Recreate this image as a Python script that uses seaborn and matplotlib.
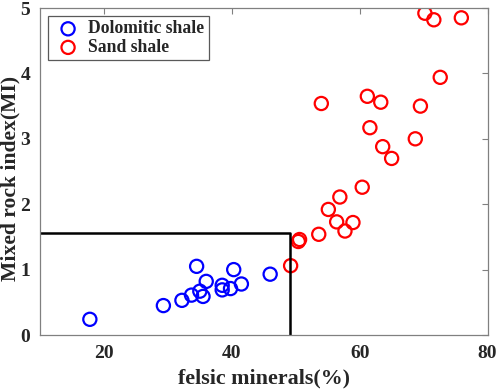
import matplotlib
matplotlib.use("Agg")
import matplotlib.pyplot as plt
import seaborn as sns
import pandas as pd

dolo_x = [17.8, 29.3, 32.2, 33.7, 35.0, 35.5, 34.5, 36.0, 38.5, 38.5, 39.8, 40.3, 41.5, 46.0]
dolo_y = [0.24, 0.45, 0.53, 0.61, 0.67, 0.59, 1.05, 0.82, 0.76, 0.69, 0.71, 1.00, 0.78, 0.93]

sand_x = [49.2, 50.4, 50.6, 53.6, 55.1, 56.4, 56.9, 57.7, 58.95, 60.4, 61.6, 61.2, 54.0, 63.3,
          63.6, 65.0, 68.7, 69.5, 72.6, 70.2, 71.6, 75.9]
sand_y = [1.06, 1.43, 1.46, 1.54, 1.92, 1.73, 2.11, 1.59, 1.72, 2.26, 3.17, 3.65, 3.54, 3.56,
          2.88, 2.70, 3.00, 3.50, 3.94, 4.92, 4.82, 4.85]

boundary_x = [10, 49.06, 49.06]
boundary_y = [1.555, 1.555, 0]

x_ticks = [20, 40, 60, 80]
y_ticks = [0, 1, 2, 3, 4, 5]

sns.set_style("white")
plt.rcParams['font.family'] = ['Liberation Serif', 'DejaVu Serif']
plt.rcParams['font.weight'] = 'bold'

fig = plt.figure(figsize=(4.98, 3.91), dpi=100)
ax = fig.add_axes([0.0803, 0.1432, 0.979 - 0.0803, 0.9795 - 0.1432])

sns.lineplot(x=boundary_x, y=boundary_y, ax=ax, color='black', linewidth=1.8,
             sort=False, estimator=None)
sns.scatterplot(x=dolo_x, y=dolo_y, ax=ax, marker='o', s=90, facecolor='none',
                edgecolor='#0000ff', linewidth=1.6, label='Dolomitic shale')
sns.scatterplot(x=sand_x, y=sand_y, ax=ax, marker='o', s=90, facecolor='none',
                edgecolor='#ff0000', linewidth=1.6, label='Sand shale')

ax.set_xlim(10, 80)
ax.set_ylim(0, 5)
ax.set_xticks(x_ticks)
ax.set_yticks(y_ticks)
ax.tick_params(direction='in', length=4, width=0.8, color='#808080',
               top=True, right=True, labelsize=14, pad=7)
for lab in ax.get_xticklabels() + ax.get_yticklabels():
    lab.set_fontweight('bold')
for sp in ax.spines.values():
    sp.set_color('#808080')
    sp.set_linewidth(0.9)

ax.set_xlabel('felsic minerals(%)', fontsize=15.8, fontweight='bold')
ax.set_ylabel('Mixed rock index(MI)', fontsize=15.6, fontweight='bold')
ax.xaxis.set_label_coords(0.5, -0.103)
ax.yaxis.set_label_coords(-0.043, 0.479)

leg = ax.legend(loc='upper left', fontsize=12.7, frameon=True, fancybox=False,
                borderpad=0.25, handlelength=1.77, handletextpad=0.26,
                labelspacing=0.09, borderaxespad=0,
                bbox_to_anchor=(0.018, 0.9755))
leg.get_frame().set_edgecolor('#303030')
leg.get_frame().set_linewidth(0.9)
for t in leg.get_texts():
    t.set_fontweight('bold')

fig.savefig('out.png', dpi=100)
